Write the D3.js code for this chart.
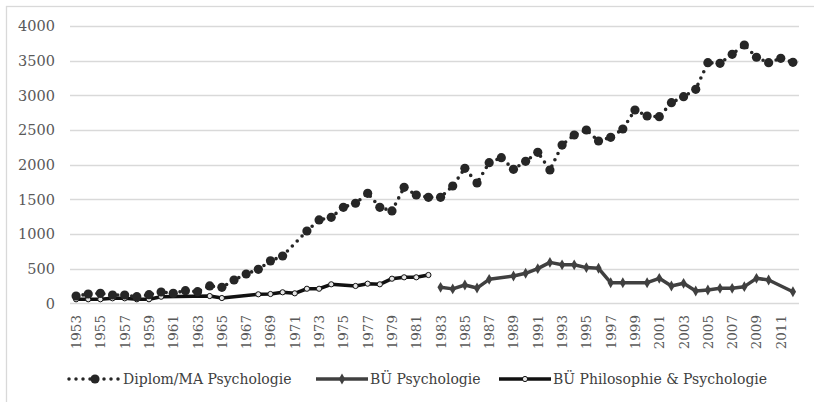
<!DOCTYPE html>
<html>
<head>
<meta charset="utf-8">
<script src="https://cdn.jsdelivr.net/npm/d3@7"></script>
<style>
  body { margin: 0; background: #fff; }
  text { font-family: "DejaVu Serif", serif; }
</style>
</head>
<body>
<div id="chart"></div>
<script>
// categories
var years = [1953,1954,1955,1956,1957,1958,1959,1960,1961,1962,1963,1964,1965,1966,1967,1968,1969,1970,
  1971,1972,1973,1974,1975,1976,1977,1978,1979,1980,1981,1982,1983,1984,1985,1986,1987,1988,1989,1990,
  1991,1992,1993,1994,1995,1996,1997,1998,1999,2000,2001,2002,2003,2004,2005,2006,2007,2008,2009,2010,2011,2012];

// series (null = no value that year)
var diplom = [105,134,144,120,120,95,124,163,144,182,167,250,231,336,423,490,612,682,
  null,1043,1202,1240,1385,1443,1587,1385,1332,1673,1562,1529,1529,1692,1947,1735,2028,2100,1933,2048,
  2178,1923,2283,2428,2500,2341,2394,2514,2788,2702,2692,2894,2980,3087,3471,3462,3592,3726,3549,3471,3534,3476];
var buePhil = [58,58,58,72,72,58,58,95,null,null,null,105,76,null,null,130,134,159,
  144,210,210,274,null,250,283,274,355,375,375,408,null,null,null,null,null,null,null,null,
  null,null,null,null,null,null,null,null,null,null,null,null,null,null,null,null,null,null,null,null,null,null];
var buePsych = [null,null,null,null,null,null,null,null,null,null,null,null,null,null,null,null,null,null,
  null,null,null,null,null,null,null,null,null,null,null,null,230,208,264,220,346,null,394,433,
  500,590,555,555,515,505,297,297,null,297,360,250,288,177,192,216,216,240,360,336,null,167];

var yTicks = [0,500,1000,1500,2000,2500,3000,3500,4000];
var seriesNames = ["Diplom/MA Psychologie", "BÜ Psychologie", "BÜ Philosophie & Psychologie"];

var W = 814, H = 402;
var svg = d3.select("#chart").append("svg").attr("width", W).attr("height", H);

svg.append("rect").attr("x", 0).attr("y", 0).attr("width", W).attr("height", H).attr("fill", "#fff");
// chart border (runs off the picture at right and bottom)
svg.append("rect").attr("x", 6.5).attr("y", 6.5).attr("width", W + 10).attr("height", H + 10)
  .attr("fill", "none").attr("stroke", "#d9d9d9").attr("stroke-width", 1.3);

var x = d3.scalePoint().domain(years).range([70, 799]).padding(0.5);
var y = d3.scaleLinear().domain([0, 4000]).range([303.3, 26]);

// grid
svg.append("g").selectAll("line").data(yTicks).enter().append("line")
  .attr("x1", 70).attr("x2", 799)
  .attr("y1", function(d){ return Math.round(y(d)) + 0.5; })
  .attr("y2", function(d){ return Math.round(y(d)) + 0.5; })
  .attr("stroke", "#d9d9d9").attr("stroke-width", 1.3);

// y labels
svg.append("g").selectAll("text").data(yTicks).enter().append("text")
  .attr("x", 55).attr("y", function(d){ return y(d); })
  .attr("dy", "0.36em").attr("text-anchor", "end")
  .attr("font-size", "14.5px").attr("fill", "#595959")
  .text(function(d){ return d; });

// x labels, every second year
svg.append("g").selectAll("text").data(years.filter(function(d, i){ return i % 2 === 0; }))
  .enter().append("text")
  .attr("transform", function(d){ return "translate(" + (x(d) + 5) + ",315) rotate(-90)"; })
  .attr("text-anchor", "end")
  .attr("font-size", "13.5px").attr("fill", "#595959")
  .text(function(d){ return d; });

function pts(vals){
  return years.map(function(yr, i){ return {year: yr, v: vals[i]}; })
    .filter(function(d){ return d.v !== null; });
}
var line = d3.line().x(function(d){ return x(d.year); }).y(function(d){ return y(d.v); });

// BÜ Philosophie & Psychologie
var phil = pts(buePhil);
svg.append("path").datum(phil).attr("d", line)
  .attr("fill", "none").attr("stroke", "#111").attr("stroke-width", 3.5).attr("stroke-linejoin", "round");
svg.append("g").selectAll("circle").data(phil).enter().append("circle")
  .attr("cx", function(d){ return x(d.year); }).attr("cy", function(d){ return y(d.v); })
  .attr("r", 2.6).attr("fill", "#e6e6e6").attr("stroke", "#111").attr("stroke-width", 1);

// BÜ Psychologie
var psych = pts(buePsych);
svg.append("path").datum(psych).attr("d", line)
  .attr("fill", "none").attr("stroke", "#404040").attr("stroke-width", 3.5).attr("stroke-linejoin", "round");
var diamond = d3.symbol().type(d3.symbolDiamond).size(34);
svg.append("g").selectAll("path").data(psych).enter().append("path")
  .attr("d", diamond)
  .attr("transform", function(d){ return "translate(" + x(d.year) + "," + y(d.v) + ")"; })
  .attr("fill", "#404040");

// Diplom/MA Psychologie
var dip = pts(diplom);
svg.append("path").datum(dip).attr("d", line)
  .attr("fill", "none").attr("stroke", "#262626").attr("stroke-width", 3.6)
  .attr("stroke-linecap", "round").attr("stroke-dasharray", "0 7");
svg.append("g").selectAll("circle").data(dip).enter().append("circle")
  .attr("cx", function(d){ return x(d.year); }).attr("cy", function(d){ return y(d.v); })
  .attr("r", 4.6).attr("fill", "#262626");

// legend
var legX = [68, 315, 498], legY = 379;
var leg = svg.append("g").selectAll("g").data(seriesNames).enter().append("g")
  .attr("transform", function(d, i){ return "translate(" + legX[i] + "," + legY + ")"; });
leg.append("line").attr("x1", 1).attr("x2", 53).attr("y1", 0).attr("y2", 0)
  .attr("stroke", function(d, i){ return ["#262626", "#404040", "#111"][i]; })
  .attr("stroke-width", 3.5)
  .attr("stroke-linecap", function(d, i){ return i === 0 ? "round" : "butt"; })
  .attr("stroke-dasharray", function(d, i){ return i === 0 ? "0 7" : null; });
leg.each(function(d, i){
  var g = d3.select(this);
  if (i === 0) g.append("circle").attr("cx", 27).attr("cy", 0).attr("r", 4.6).attr("fill", "#262626");
  if (i === 1) g.append("path").attr("d", diamond).attr("transform", "translate(27,0)").attr("fill", "#404040");
  if (i === 2) g.append("circle").attr("cx", 27).attr("cy", 0).attr("r", 2.6)
    .attr("fill", "#e6e6e6").attr("stroke", "#111").attr("stroke-width", 1);
});
leg.append("text").attr("x", 55).attr("y", 0).attr("dy", "0.35em")
  .attr("font-size", "14px").attr("fill", "#404040")
  .text(function(d){ return d; });
</script>
</body>
</html>
